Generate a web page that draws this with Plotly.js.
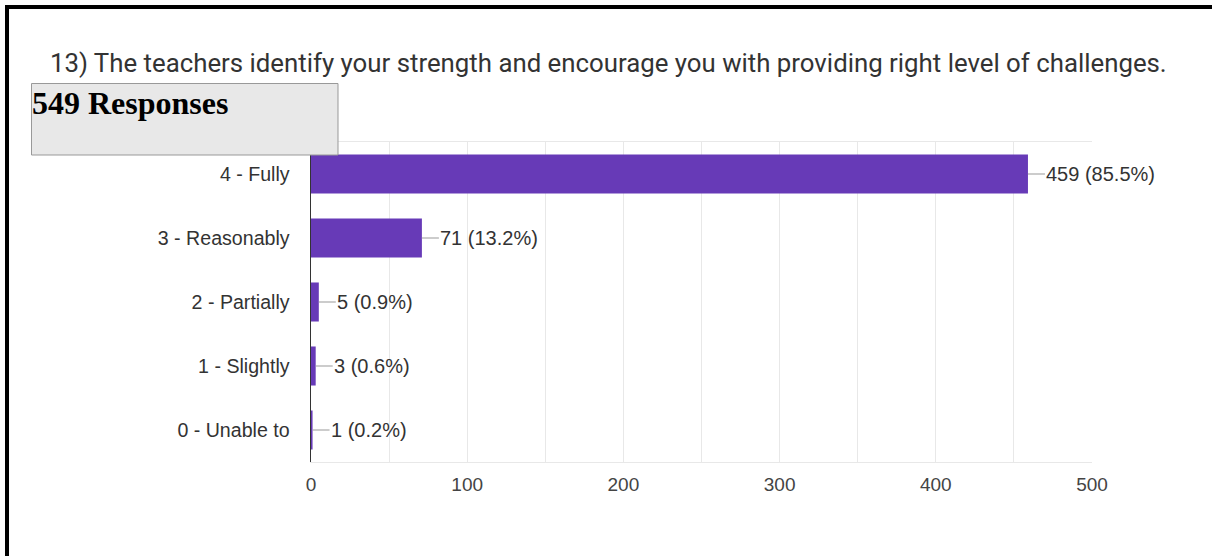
<!DOCTYPE html>
<html>
<head>
<meta charset="utf-8">
<script src="https://cdn.plot.ly/plotly-3.0.1.min.js"></script>
<style>
html,body{margin:0;padding:0;background:#fff;}
#chart{width:1212px;height:556px;}
</style>
</head>
<body>
<div id="chart"></div>
<script>
const titleText = "13) The teachers identify your strength and encourage you with providing right level of challenges.";
const responsesText = "549 Responses";
const categories = ["4 - Fully", "3 - Reasonably", "2 - Partially", "1 - Slightly", "0 - Unable to"];
const counts = [459, 71, 5, 3, 1];
const percents = ["85.5%", "13.2%", "0.9%", "0.6%", "0.2%"];
const xTickVals = [0, 100, 200, 300, 400, 500];

// plot area pixel geometry (used to convert decoration positions to paper coords)
const W = 1212, H = 556;
const mL = 311, mR = 120, mT = 142, mB = 94;
const pw = W - mL - mR, ph = H - mT - mB;
const px = x => (x - mL) / pw;
const py = y => (H - mB - y) / ph;

const labelFont = {family: "Arial, 'Liberation Sans', sans-serif", size: 20, color: "#333"};

const annotations = categories.map((c, i) => ({
  x: counts[i], y: c, xref: "x", yref: "y",
  text: counts[i] + " (" + percents[i] + ")",
  showarrow: true, arrowhead: 0, arrowwidth: 1, arrowcolor: "#999",
  ax: 17, ay: 0, xanchor: "left", yanchor: "middle",
  standoff: 0, startstandoff: 0, borderpad: 0,
  font: labelFont
}));

annotations.push({
  xref: "paper", yref: "paper",
  x: px(30), y: py(83), xanchor: "left", yanchor: "top",
  text: "<b>" + responsesText + "</b>", showarrow: false, align: "left",
  font: {family: "'Liberation Serif', 'Times New Roman', serif", size: 32, color: "#000"}
});

annotations.push({
  xref: "paper", yref: "paper",
  x: px(48), y: py(63), xanchor: "left", yanchor: "middle",
  text: titleText, showarrow: false, align: "left",
  font: {family: "Roboto, sans-serif", size: 25.8, color: "#333"}
});

const shapes = [
  {type: "rect", xref: "paper", yref: "paper", x0: px(31.5), x1: px(338), y0: py(83.5), y1: py(155),
   fillcolor: "#e8e8e8", line: {color: "#999", width: 1}, layer: "above"},
  {type: "line", xref: "paper", yref: "paper", x0: px(5), x1: px(1212), y0: py(7), y1: py(7),
   line: {color: "#000", width: 4}},
  {type: "line", xref: "paper", yref: "paper", x0: px(7), x1: px(7), y0: py(5), y1: py(556),
   line: {color: "#000", width: 4}}
];

const trace = {
  type: "bar", orientation: "h",
  x: counts, y: categories,
  marker: {color: "#673ab7", line: {width: 0}},
  hoverinfo: "none"
};

const layout = {
  width: W, height: H,
  margin: {l: mL, r: mR, t: mT, b: mB, pad: 0},
  paper_bgcolor: "#fff", plot_bgcolor: "#fff",
  showlegend: false,
  bargap: 0.39,
  xaxis: {
    range: [0, 500], tickvals: xTickVals, ticktext: xTickVals.map(String),
    showgrid: true, gridcolor: "#e8e8e8", gridwidth: 1,
    minor: {dtick: 50, tick0: 0, showgrid: true, gridcolor: "#e8e8e8", gridwidth: 1},
    zeroline: false, showline: true, mirror: true, linecolor: "#e8e8e8", linewidth: 1,
    ticks: "", ticklabelstandoff: 5,
    tickfont: {family: "Arial, 'Liberation Sans', sans-serif", size: 19, color: "#444"},
    fixedrange: true
  },
  yaxis: {
    type: "category", autorange: "reversed",
    showgrid: false, zeroline: false,
    showline: true, linecolor: "#333", linewidth: 1.5,
    ticks: "", ticklabelstandoff: 16,
    tickfont: {family: "Arial, 'Liberation Sans', sans-serif", size: 19.6, color: "#333"},
    fixedrange: true
  },
  annotations: annotations,
  shapes: shapes
};

Plotly.newPlot("chart", [trace], layout, {displayModeBar: false, staticPlot: true});
</script>
</body>
</html>
